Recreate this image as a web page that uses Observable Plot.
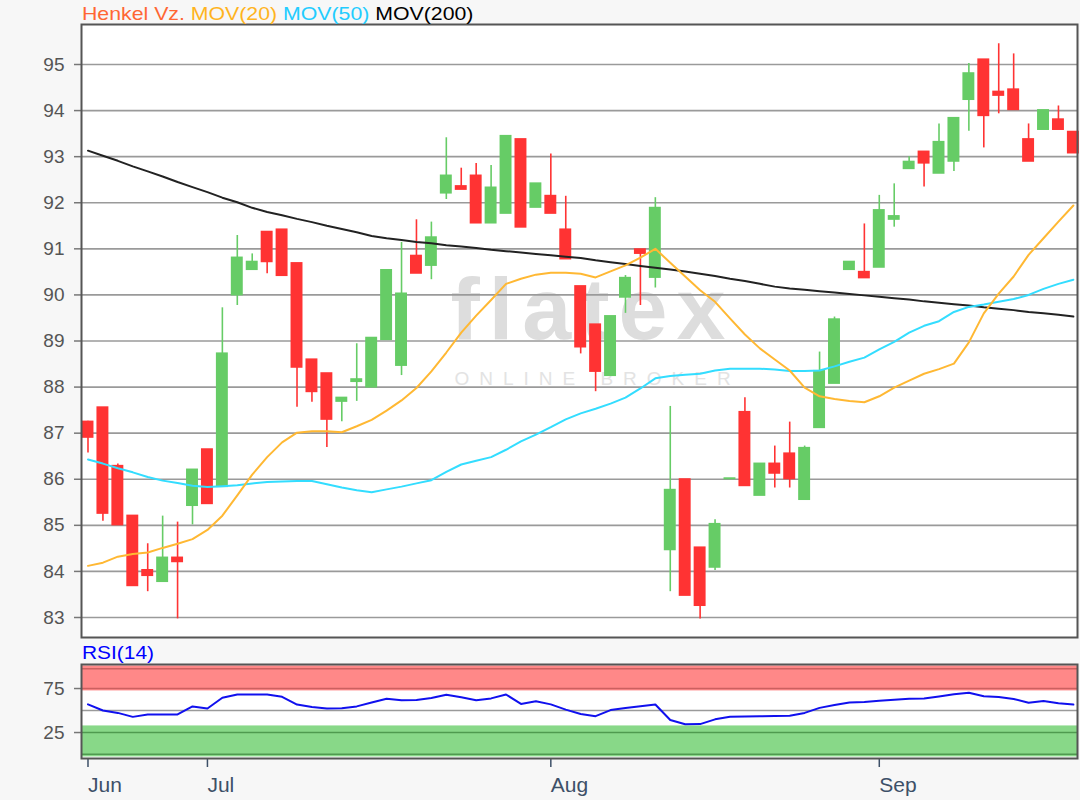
<!DOCTYPE html>
<html><head><meta charset="utf-8">
<script src="https://cdn.jsdelivr.net/npm/d3@7"></script>
<script src="https://cdn.jsdelivr.net/npm/@observablehq/plot@0.6"></script>
<style>
body{margin:0;background:#f7f7f7;font-family:"Liberation Sans",Arial,sans-serif;}
#wrap{position:relative;width:1080px;height:800px;overflow:hidden;}
#main{position:absolute;left:0;top:0;}
#rsi{position:absolute;left:0;top:660px;}
#title{position:absolute;left:82px;top:3px;font-size:19px;line-height:normal;transform:scaleX(1.12);transform-origin:left top;white-space:nowrap;}
#rsilabel{position:absolute;left:82px;top:642px;font-size:19px;line-height:normal;color:#0000ff;transform:scaleX(1.1);transform-origin:left top;white-space:nowrap;}
.wm1 text{letter-spacing:9px;}
.wm2 text{letter-spacing:10px;}
</style></head>
<body>
<div id="wrap">
  <div id="main"></div>
  <div id="rsi"></div>
  <div id="title"><span style="color:#ff6633">Henkel Vz.</span> <span style="color:#ffb41e">MOV(20)</span> <span style="color:#22ccff">MOV(50)</span> <span style="color:#000">MOV(200)</span></div>
  <div id="rsilabel">RSI(14)</div>
</div>
<script>
const opens = [87.24,87.55,86.28,85.20,84.02,83.78,84.29,85.43,86.64,85.84, 90.00,90.55,91.36,91.41,90.68,88.59,88.29,87.69,88.12,88.00, 89.03,88.47,90.84,90.64,92.21,92.35,92.58,91.56,91.77,93.37, 91.90,92.14,91.41,90.18,89.35,88.25,89.95,90.98,90.38,84.47, 85.99,84.51,84.09,86.01,87.45,85.65,86.33,86.55,85.56,87.12, 88.08,90.55,90.49,90.60,91.64,92.74,93.10,92.64,92.90,94.24, 95.10,94.40,94.45,93.37,93.59,93.80,93.53];
const highs = [87.26,87.55,86.33,85.20,84.60,85.20,85.07,86.20,86.64,89.72, 91.29,90.89,91.36,91.41,90.68,88.59,88.29,87.76,88.94,89.06, 90.53,91.14,91.63,91.58,93.41,92.75,92.85,92.81,93.44,93.37, 92.41,93.06,92.14,90.18,89.35,89.53,90.42,90.98,92.11,87.58, 85.99,84.51,85.12,86.01,87.77,86.33,86.72,87.24,86.72,88.76, 89.52,90.71,91.54,92.16,92.41,93.00,93.10,93.71,93.83,95.02, 95.10,95.45,95.23,93.71,94.00,94.10,93.53];
const lows = [86.57,85.09,85.01,83.69,83.56,83.78,82.97,85.01,85.47,85.84, 89.77,90.55,90.46,90.42,87.56,87.67,86.69,87.25,87.69,88.00, 89.03,88.25,90.47,90.33,92.07,92.29,91.56,91.56,91.77,91.47, 91.90,91.77,90.78,88.72,87.90,88.25,89.60,89.77,90.15,83.56, 83.48,82.97,84.02,86.01,85.86,85.65,85.81,85.81,85.56,87.12, 88.08,90.55,90.37,90.60,91.47,92.74,92.34,92.64,92.68,93.55, 93.19,93.93,94.02,92.90,93.59,93.59,93.08];
const closes = [86.91,85.26,85.01,83.69,83.91,84.29,84.21,86.20,85.47,88.72, 90.80,90.71,90.72,90.42,88.43,87.90,87.30,87.76,88.16,89.06, 90.53,90.02,90.47,91.24,92.58,92.29,91.56,92.32,93.44,91.47, 92.41,91.77,90.78,88.87,88.34,89.53,90.36,90.90,91.88,85.76, 83.48,83.26,85.02,86.01,85.86,86.33,86.13,86.01,86.67,88.34, 89.46,90.71,90.37,91.83,91.70,92.88,92.86,93.31,93.83,94.80, 93.89,94.33,94.02,92.90,94.00,93.59,93.08];
const mov20 = [84.12,84.19,84.32,84.38,84.41,84.51,84.60,84.70,84.90,85.21, 85.65,86.10,86.48,86.80,87.01,87.04,87.04,87.02,87.15,87.29, 87.49,87.71,87.98,88.34,88.75,89.18,89.55,89.89,90.24,90.35, 90.44,90.48,90.48,90.46,90.38,90.51,90.64,90.81,91.00,90.70, 90.40,90.10,89.85,89.49,89.14,88.84,88.60,88.36,87.99,87.80, 87.74,87.70,87.67,87.80,87.99,88.14,88.29,88.39,88.51,88.97, 89.60,90.03,90.40,90.87,91.23,91.59,91.94];
const mov50 = [86.43,86.34,86.24,86.15,86.05,85.97,85.92,85.86,85.83,85.85, 85.87,85.91,85.94,85.95,85.96,85.96,85.89,85.82,85.76,85.72, 85.78,85.84,85.91,85.98,86.16,86.32,86.40,86.48,86.64,86.82, 86.97,87.13,87.30,87.43,87.53,87.64,87.77,87.97,88.19,88.24, 88.27,88.29,88.36,88.40,88.40,88.40,88.38,88.35,88.35,88.36, 88.45,88.55,88.64,88.82,88.98,89.18,89.33,89.43,89.63,89.74, 89.79,89.85,89.91,90.00,90.13,90.24,90.33];
const mov200 = [93.13,93.02,92.91,92.79,92.68,92.57,92.45,92.34,92.23,92.11, 92.01,91.89,91.80,91.73,91.65,91.58,91.50,91.43,91.36,91.28, 91.23,91.19,91.15,91.12,91.08,91.05,91.02,90.98,90.95,90.92, 90.89,90.86,90.83,90.80,90.75,90.71,90.67,90.63,90.59,90.55, 90.51,90.46,90.41,90.35,90.30,90.24,90.18,90.14,90.11,90.08, 90.05,90.02,89.99,89.96,89.93,89.90,89.86,89.83,89.80,89.77, 89.73,89.70,89.67,89.63,89.60,89.57,89.53];
const rsi14 = [57.0,50.0,47.3,42.8,45.5,45.5,45.5,54.7,52.3,64.5, 68.2,68.2,68.2,65.6,56.8,54.0,52.3,52.5,54.7,59.1, 63.3,61.7,61.9,64.3,68.0,65.0,61.8,63.8,68.2,57.5, 60.5,57.0,51.0,46.0,43.6,50.5,52.9,54.9,56.8,39.3, 34.4,34.6,40.0,43.0,43.3,43.5,43.7,44.0,47.3,53.0, 56.2,59.2,59.7,61.0,62.3,63.4,63.6,66.0,68.5,70.3, 66.2,65.5,63.2,58.9,60.9,58.3,56.8];
const yTicks = [83,84,85,86,87,88,89,90,91,92,93,94,95];
const rsiTicks = [25,75];
const monthTicks = [0,8,31,53];
const monthLabels = ["Jun","Jul","Aug","Sep"];

const idx = opens.map((_, i) => i);
const candles = idx.map(i => ({i, o: opens[i], h: highs[i], l: lows[i], c: closes[i],
  col: closes[i] >= opens[i] ? "#66cc66" : "#ff3333"}));

const FONT = "'Liberation Sans', Arial, sans-serif";
const xDomain = [-0.435, 66.276];

const main = Plot.plot({
  width: 1080, height: 640,
  marginTop: 24, marginBottom: 3, marginLeft: 81, marginRight: 3,
  style: {background: "transparent", fontFamily: FONT},
  x: {domain: xDomain, axis: null},
  y: {domain: [82.566, 95.868]},
  color: {type: "identity"},
  marks: [
    Plot.frame({fill: "white"}),
    Plot.text(["flatex"], {text: d => d, frameAnchor: "middle", dx: 13, dy: -20, fontSize: 88, fontWeight: "bold", fill: "#dddddd", className: "wm1"}),
    Plot.text(["ONLINE BROKER"], {text: d => d, frameAnchor: "middle", dx: 18, dy: 48, fontSize: 19, fill: "#e3e3e3", className: "wm2"}),
    Plot.gridY(yTicks, {stroke: "#9a9a9a", strokeOpacity: 1, strokeWidth: 1.6}),
    Plot.axisY(yTicks, {tickSize: 7, tickPadding: 10, fontSize: 19, fill: "#555", stroke: "#777", strokeWidth: 1.5}),
    Plot.ruleX(candles, {x: "i", y1: "l", y2: "h", stroke: "col", strokeWidth: 1.6}),
    Plot.rect(candles, {x1: d => d.i - 0.4, x2: d => d.i + 0.4, y1: "o", y2: "c", fill: "col", insetTop: -1, insetBottom: -1}),
    Plot.line(idx, {x: d => d, y: d => mov200[d], stroke: "#222", strokeWidth: 2}),
    Plot.line(idx, {x: d => d, y: d => mov50[d], stroke: "#33ddff", strokeWidth: 2}),
    Plot.line(idx, {x: d => d, y: d => mov20[d], stroke: "#ffb833", strokeWidth: 2}),
    Plot.frame({stroke: "#555", strokeWidth: 2})
  ]
});
document.getElementById("main").appendChild(main);

const rsiPlot = Plot.plot({
  width: 1080, height: 140,
  marginTop: 4, marginBottom: 42, marginLeft: 81, marginRight: 3,
  style: {background: "transparent", fontFamily: FONT},
  x: {domain: xDomain},
  y: {domain: [-4.5, 102.3]},
  marks: [
    Plot.frame({fill: "white"}),
    Plot.rect([{a: 72.3, b: 100.7}], {y1: "a", y2: "b", fill: "#ff8888"}),
    Plot.rect([{a: -2.7, b: 32.5}], {y1: "a", y2: "b", fill: "#88d888"}),
    Plot.ruleY([97.5, 75], {stroke: "#cc6060", strokeWidth: 1.5}),
    Plot.ruleY([25, 0.3], {stroke: "#4f9a4f", strokeWidth: 1.5}),
    Plot.ruleY([50], {stroke: "#9a9a9a", strokeWidth: 1.6}),
    Plot.axisY(rsiTicks, {tickSize: 7, tickPadding: 10, fontSize: 19, fill: "#555", stroke: "#777", strokeWidth: 1.5}),
    Plot.axisX(monthTicks, {tickFormat: d => monthLabels[monthTicks.indexOf(d)], tickSize: 9, tickPadding: 10, textAnchor: "start", fontSize: 21, fill: "#3d5068", stroke: "#3d5068", strokeWidth: 1.5}),
    Plot.line(idx, {x: d => d, y: d => rsi14[d], stroke: "#1010ee", strokeWidth: 2}),
    Plot.frame({stroke: "#555", strokeWidth: 2})
  ]
});
document.getElementById("rsi").appendChild(rsiPlot);
</script>
</body></html>
